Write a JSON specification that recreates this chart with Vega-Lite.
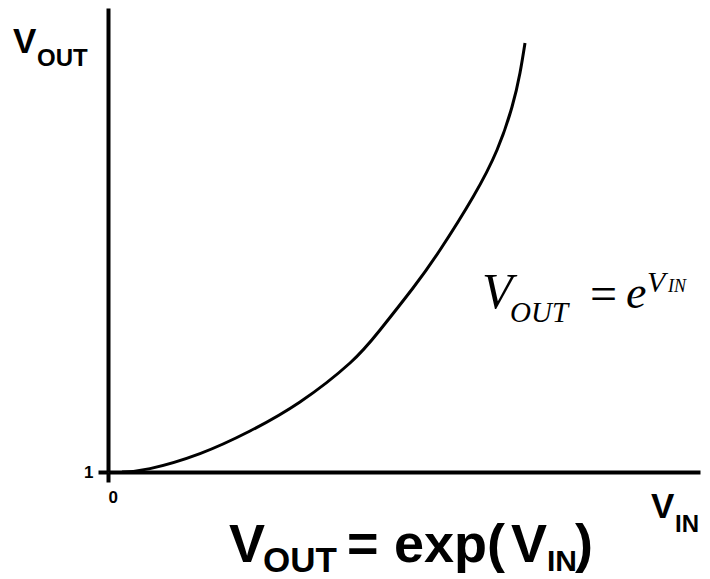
{
  "$schema": "https://vega.github.io/schema/vega-lite/v6.json",
  "width": 592,
  "height": 464,
  "autosize": {"type": "none"},
  "padding": {"left": 108, "top": 8, "right": 10, "bottom": 107},
  "background": "white",
  "config": {"view": {"stroke": null}, "font": "Liberation Sans"},
  "layer": [
    {
      "data": {"values": [
        {"x": 0.236, "y": 1.000},
        {"x": 0.709, "y": 1.066},
        {"x": 1.554, "y": 1.357},
        {"x": 2.399, "y": 1.795},
        {"x": 3.243, "y": 2.358},
        {"x": 4.088, "y": 3.114},
        {"x": 4.595, "y": 3.754},
        {"x": 5.152, "y": 4.569},
        {"x": 5.608, "y": 5.306},
        {"x": 6.166, "y": 6.334},
        {"x": 6.571, "y": 7.246},
        {"x": 6.824, "y": 8.080},
        {"x": 6.959, "y": 8.740},
        {"x": 7.044, "y": 9.322}
      ]},
      "mark": {"type": "line", "color": "black", "strokeWidth": 3, "interpolate": "natural"},
      "encoding": {
        "x": {
          "field": "x", "type": "quantitative",
          "scale": {"domain": [0, 10], "nice": false, "zero": false},
          "axis": {
            "title": null, "grid": false, "values": [0], "format": "d",
            "domain": true, "domainColor": "black", "domainWidth": 4,
            "ticks": true, "tickColor": "black", "tickWidth": 4, "tickSize": 10,
            "labelFont": "Liberation Sans", "labelFontWeight": "bold", "labelFontSize": 17,
            "labelColor": "black", "labelPadding": 7
          }
        },
        "y": {
          "field": "y", "type": "quantitative",
          "scale": {"domain": [1, 10], "nice": false, "zero": false},
          "axis": {
            "title": null, "grid": false, "values": [1], "format": "d",
            "domain": true, "domainColor": "black", "domainWidth": 4,
            "ticks": true, "tickColor": "black", "tickWidth": 4, "tickSize": 10,
            "labelFont": "Liberation Sans", "labelFontWeight": "bold", "labelFontSize": 17,
            "labelColor": "black", "labelPadding": 5
          }
        }
      }
    },
    {
      "data": {"values": [
        {"x": -1.605, "y": 9.127, "t": "V"},
        {"x": 9.172, "y": 0.108, "t": "V"}
      ]},
      "mark": {"type": "text", "font": "Liberation Sans", "fontWeight": "bold", "fontSize": 35, "align": "left", "baseline": "alphabetic", "color": "black"},
      "encoding": {"x": {"field": "x", "type": "quantitative"}, "y": {"field": "y", "type": "quantitative"}, "text": {"field": "t"}}
    },
    {
      "data": {"values": [
        {"x": -1.199, "y": 8.875, "t": "OUT"},
        {"x": 9.578, "y": -0.164, "t": "IN"}
      ]},
      "mark": {"type": "text", "font": "Liberation Sans", "fontWeight": "bold", "fontSize": 24, "align": "left", "baseline": "alphabetic", "color": "black"},
      "encoding": {"x": {"field": "x", "type": "quantitative"}, "y": {"field": "y", "type": "quantitative"}, "text": {"field": "t"}}
    },
    {
      "data": {"values": [
        {"x": 2.044, "y": -0.746, "t": "V"},
        {"x": 4.037, "y": -0.746, "t": "="},
        {"x": 4.831, "y": -0.746, "t": "exp("},
        {"x": 6.807, "y": -0.746, "t": "V"},
        {"x": 7.889, "y": -0.746, "t": ")"}
      ]},
      "mark": {"type": "text", "font": "Liberation Sans", "fontWeight": "bold", "fontSize": 54, "align": "left", "baseline": "alphabetic", "color": "black"},
      "encoding": {"x": {"field": "x", "type": "quantitative"}, "y": {"field": "y", "type": "quantitative"}, "text": {"field": "t"}}
    },
    {
      "data": {"values": [
        {"x": 2.618, "y": -0.940, "t": "OUT"}
      ]},
      "mark": {"type": "text", "font": "Liberation Sans", "fontWeight": "bold", "fontSize": 35, "align": "left", "baseline": "alphabetic", "color": "black"},
      "encoding": {"x": {"field": "x", "type": "quantitative"}, "y": {"field": "y", "type": "quantitative"}, "text": {"field": "t"}}
    },
    {
      "data": {"values": [
        {"x": 7.415, "y": -0.920, "t": "IN"}
      ]},
      "mark": {"type": "text", "font": "Liberation Sans", "fontWeight": "bold", "fontSize": 30, "align": "left", "baseline": "alphabetic", "color": "black"},
      "encoding": {"x": {"field": "x", "type": "quantitative"}, "y": {"field": "y", "type": "quantitative"}, "text": {"field": "t"}}
    },
    {
      "data": {"values": [
        {"x": 6.318, "y": 4.181, "t": "V"}
      ]},
      "mark": {"type": "text", "font": "Liberation Serif", "fontStyle": "italic", "fontSize": 50, "align": "left", "baseline": "alphabetic", "color": "black"},
      "encoding": {"x": {"field": "x", "type": "quantitative"}, "y": {"field": "y", "type": "quantitative"}, "text": {"field": "t"}}
    },
    {
      "data": {"values": [
        {"x": 6.791, "y": 3.910, "t": "OUT"}
      ]},
      "mark": {"type": "text", "font": "Liberation Serif", "fontStyle": "italic", "fontSize": 29, "align": "left", "baseline": "alphabetic", "color": "black"},
      "encoding": {"x": {"field": "x", "type": "quantitative"}, "y": {"field": "y", "type": "quantitative"}, "text": {"field": "t"}}
    },
    {
      "data": {"values": [
        {"x": 9.105, "y": 4.491, "t": "V"}
      ]},
      "mark": {"type": "text", "font": "Liberation Serif", "fontStyle": "italic", "fontSize": 30, "align": "left", "baseline": "alphabetic", "color": "black"},
      "encoding": {"x": {"field": "x", "type": "quantitative"}, "y": {"field": "y", "type": "quantitative"}, "text": {"field": "t"}}
    },
    {
      "data": {"values": [
        {"x": 8.142, "y": 4.142, "t": "="}
      ]},
      "mark": {"type": "text", "font": "Liberation Serif", "fontSize": 48, "align": "left", "baseline": "alphabetic", "color": "black"},
      "encoding": {"x": {"field": "x", "type": "quantitative"}, "y": {"field": "y", "type": "quantitative"}, "text": {"field": "t"}}
    },
    {
      "data": {"values": [
        {"x": 8.750, "y": 4.181, "t": "e"}
      ]},
      "mark": {"type": "text", "font": "Liberation Serif", "fontStyle": "italic", "fontSize": 46, "align": "left", "baseline": "alphabetic", "color": "black"},
      "encoding": {"x": {"field": "x", "type": "quantitative"}, "y": {"field": "y", "type": "quantitative"}, "text": {"field": "t"}}
    },
    {
      "data": {"values": [
        {"x": 9.460, "y": 4.491, "t": "IN"}
      ]},
      "mark": {"type": "text", "font": "Liberation Serif", "fontStyle": "italic", "fontSize": 18, "align": "left", "baseline": "alphabetic", "color": "black"},
      "encoding": {"x": {"field": "x", "type": "quantitative"}, "y": {"field": "y", "type": "quantitative"}, "text": {"field": "t"}}
    }
  ]
}
